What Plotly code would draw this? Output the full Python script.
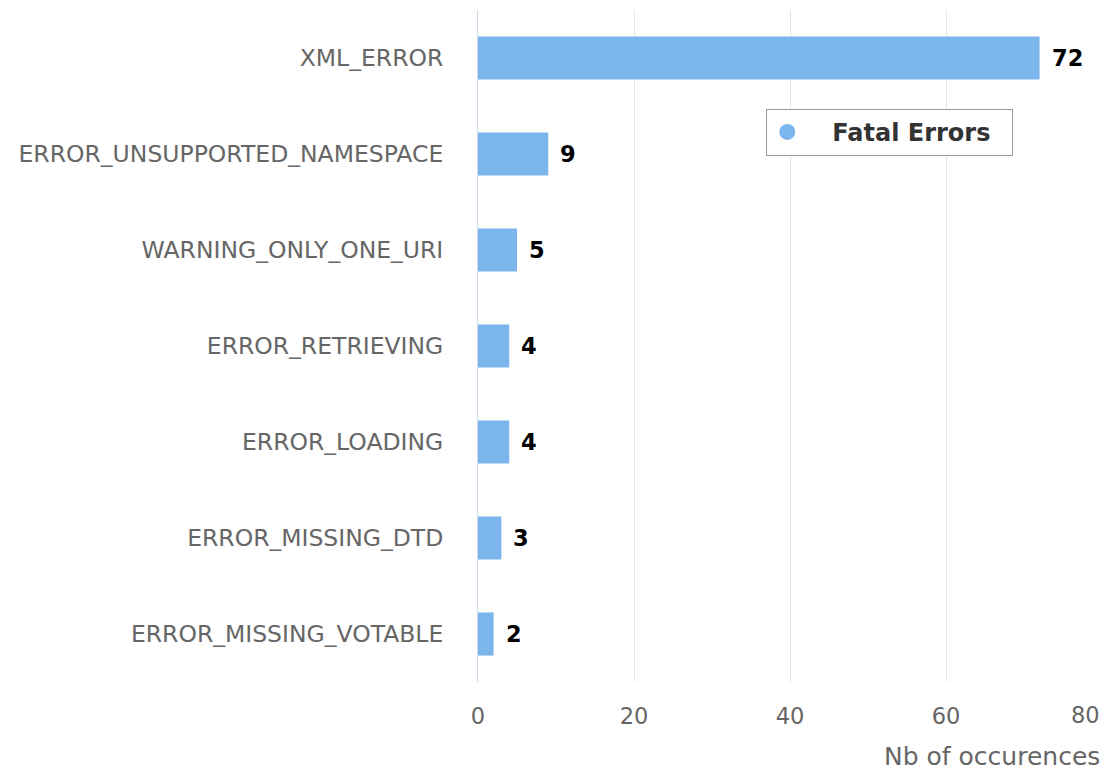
import plotly.graph_objects as go

categories = ["XML_ERROR", "ERROR_UNSUPPORTED_NAMESPACE", "WARNING_ONLY_ONE_URI",
              "ERROR_RETRIEVING", "ERROR_LOADING", "ERROR_MISSING_DTD", "ERROR_MISSING_VOTABLE"]
values = [72, 9, 5, 4, 4, 3, 2]
series_name = "Fatal Errors"
x_ticks = [0, 20, 40, 60, 80]
x_title = "Nb of occurences"

BAR = "#7cb5ec"
FONT = "DejaVu Sans"
FS = 22.5

fig = go.Figure()
fig.add_trace(go.Bar(
    x=values, y=categories, orientation="h",
    marker=dict(color=BAR, line=dict(width=0)),
    width=0.45, showlegend=False, hoverinfo="x+y",
))
# legend entry with circle symbol
fig.add_trace(go.Scatter(
    x=[None], y=[None], mode="markers",
    name="\u00a0\u00a0\u00a0" + series_name + "\u00a0\u00a0",
    marker=dict(symbol="circle", size=20, color=BAR),
))

annotations = []
for c, v in zip(categories, values):
    annotations.append(dict(
        x=v, y=c, xref="x", yref="y", text=f"<b>{v}</b>", showarrow=False,
        xanchor="left", yanchor="middle", xshift=10,
        font=dict(family=FONT, size=FS, color="#000000"),
    ))
# last tick label, kept inside the page (right aligned)
annotations.append(dict(
    x=x_ticks[-1], y=0, xref="x", yref="paper", text=str(x_ticks[-1]), showarrow=False,
    xanchor="right", yanchor="middle", yshift=-33,
    font=dict(family=FONT, size=FS, color="#666666"),
))
annotations.append(dict(
    x=1, y=0, xref="paper", yref="paper", text=x_title, showarrow=False,
    xanchor="right", yanchor="middle", yshift=-74,
    font=dict(family=FONT, size=25, color="#666666"),
))

fig.update_layout(
    width=1105, height=774,
    margin=dict(l=478, r=3, t=10, b=92),
    paper_bgcolor="white", plot_bgcolor="white",
    font=dict(family=FONT, color="#666666"),
    xaxis=dict(
        range=[0, 80], tickvals=x_ticks[:-1], showgrid=True, gridcolor="#e6e6e6", gridwidth=1,
        zeroline=False, showline=False, ticks="", ticklabelstandoff=18,
        tickfont=dict(family=FONT, size=FS, color="#666666"), fixedrange=True,
    ),
    yaxis=dict(
        categoryorder="array", categoryarray=categories, autorange="reversed",
        showline=True, linecolor="#ccd6eb", linewidth=1, showgrid=False, ticks="",
        ticklabelstandoff=29, tickfont=dict(family=FONT, size=23.5, color="#666666"),
        fixedrange=True,
    ),
    legend=dict(
        x=0.462, y=0.853, xanchor="left", yanchor="top",
        bgcolor="white", bordercolor="#999999", borderwidth=1,
        font=dict(family=FONT, size=24, color="#333333", weight="bold"),
        itemsizing="trace",
    ),
    annotations=annotations,
    showlegend=True,
)

fig.write_html("out.html", config={"displayModeBar": False},
               post_script="document.body.style.margin='0';document.body.style.padding='0';")
